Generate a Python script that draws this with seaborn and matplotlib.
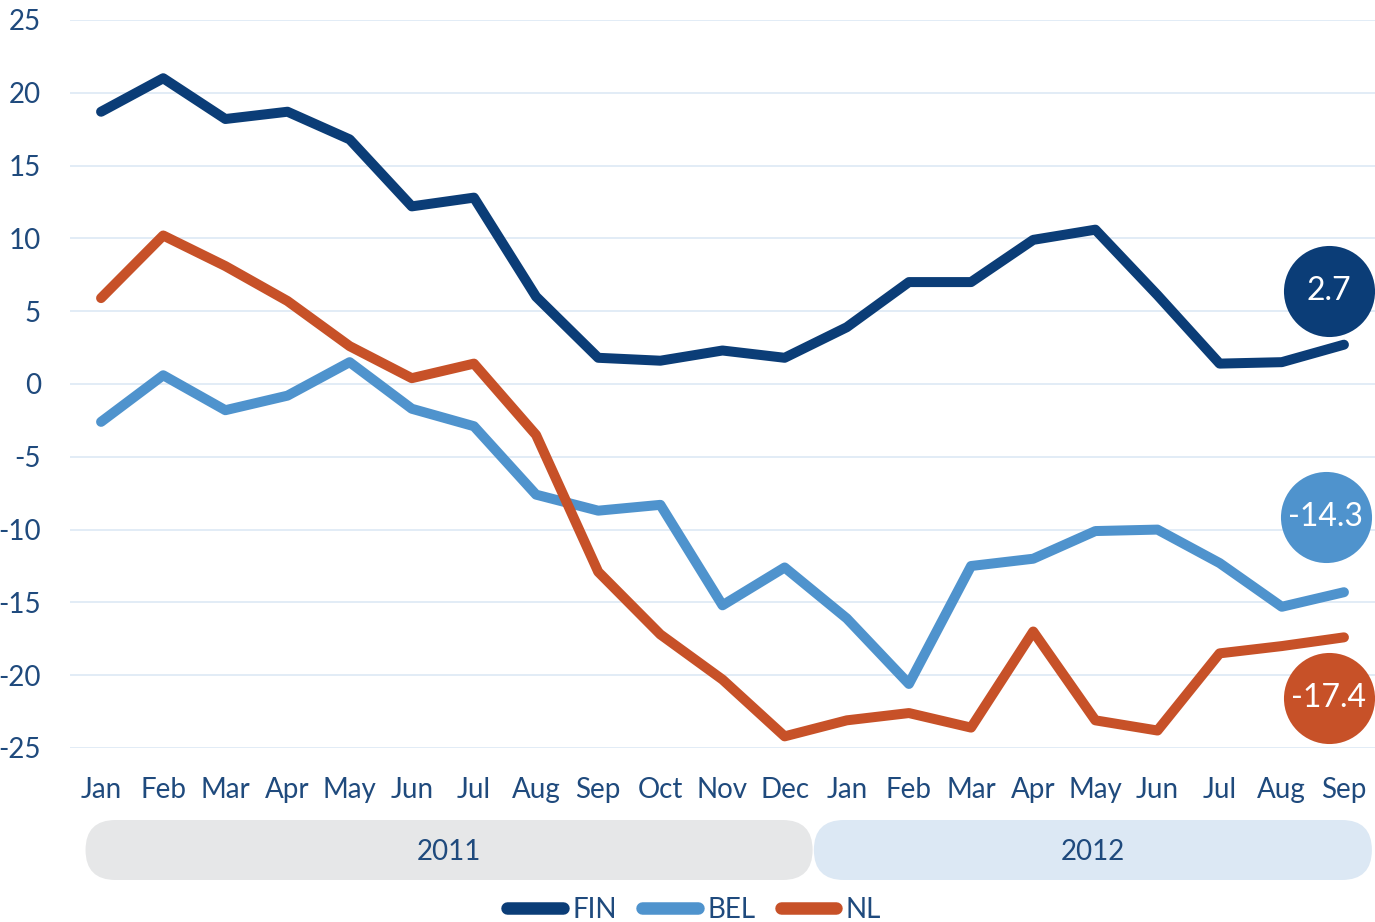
import numpy as np
import pandas as pd
import matplotlib
matplotlib.use("Agg")
import matplotlib.pyplot as plt
import matplotlib.transforms as mtrans
from matplotlib.patches import FancyBboxPatch
from matplotlib.lines import Line2D
import seaborn as sns

months = ["Jan", "Feb", "Mar", "Apr", "May", "Jun", "Jul", "Aug", "Sep", "Oct", "Nov", "Dec",
          "Jan", "Feb", "Mar", "Apr", "May", "Jun", "Jul", "Aug", "Sep"]
years = ["2011", "2012"]
year_len = [12, 9]

fin = [18.7, 21.0, 18.2, 18.7, 16.8, 12.2, 12.8, 6.0, 1.8, 1.6, 2.3, 1.8,
       3.9, 7.0, 7.0, 9.9, 10.6, 6.1, 1.4, 1.5, 2.7]
bel = [-2.6, 0.6, -1.8, -0.8, 1.5, -1.7, -2.9, -7.6, -8.7, -8.3, -15.2, -12.6,
       -16.1, -20.6, -12.5, -12.0, -10.1, -10.0, -12.3, -15.3, -14.3]
nl = [5.9, 10.2, 8.1, 5.7, 2.6, 0.4, 1.4, -3.5, -12.9, -17.2, -20.3, -24.2,
      -23.1, -22.6, -23.6, -17.0, -23.1, -23.8, -18.5, -18.0, -17.4]

series = ["FIN", "BEL", "NL"]
colors = {"FIN": "#0b3d77", "BEL": "#4f93cd", "NL": "#c75128"}
text_col = "#1f4a7d"

df = pd.DataFrame({
    "idx": list(range(len(months))) * 3,
    "value": fin + bel + nl,
    "country": ["FIN"] * len(fin) + ["BEL"] * len(bel) + ["NL"] * len(nl),
})

sns.set_theme(style="white")
plt.rcParams["font.family"] = ["Lato", "DejaVu Sans"]
plt.rcParams["axes.unicode_minus"] = False

fig = plt.figure(figsize=(13.75, 9.22), dpi=100)
ax = fig.add_axes([70 / 1375, 174 / 922, 1305 / 1375, 728 / 922])

sns.lineplot(data=df, x="idx", y="value", hue="country", palette=colors,
             hue_order=series, linewidth=7.2, ax=ax, legend=False,
             solid_capstyle="round", solid_joinstyle="round", clip_on=False, zorder=3)

ax.set_xlim(-0.5, 20.5)
ax.set_ylim(-25, 25)
ax.set_yticks(np.arange(-25, 26, 5))
ax.set_xticks(range(len(months)))
ax.set_xticklabels(months)
ax.set_xlabel("")
ax.set_ylabel("")
for s in ax.spines.values():
    s.set_visible(False)
ax.yaxis.grid(True, color="#dde9f5", linewidth=1.2)
ax.xaxis.grid(False)
ax.set_axisbelow(True)
ax.tick_params(axis="x", length=0, pad=21, labelsize=20, labelcolor=text_col)
ax.tick_params(axis="y", length=0, pad=21, labelsize=20, labelcolor=text_col)

# end-value bubbles
offsets = {"FIN": (-15, 54), "BEL": (-18, 75), "NL": (-15, -61)}
ends = {"FIN": fin[-1], "BEL": bel[-1], "NL": nl[-1]}
for c in series:
    dx, dy = offsets[c]
    tr = mtrans.offset_copy(ax.transData, fig=fig, x=dx, y=dy, units="dots")
    ax.scatter([len(months) - 1], [ends[c]], s=4300, color=colors[c], transform=tr,
               zorder=5, clip_on=False, linewidths=0)
    ax.text(len(months) - 1, ends[c], f"{ends[c]:.1f}", transform=tr, color="white",
            fontsize=23, ha="center", va="center", zorder=6)

# year bands
fig.canvas.draw()
band_cols = ["#e6e7e8", "#dce8f4"]
start = 0
for yr, n, bc in zip(years, year_len, band_cols):
    x0 = start - 0.25 if start == 0 else start - 0.53
    x1 = start + n - 1 + 0.45
    px0 = ax.transData.transform((x0, 0))[0]
    px1 = ax.transData.transform((x1, 0))[0]
    y0 = 42
    h = 60
    box = FancyBboxPatch((px0 / 100, y0 / 100), (px1 - px0) / 100, h / 100,
                         boxstyle="round,pad=0,rounding_size=0.3",
                         transform=fig.dpi_scale_trans, facecolor=bc, edgecolor="none")
    fig.patches.append(box)
    fig.text((px0 + px1) / 2 / 1375, (y0 + h / 2 - 2) / 922, yr, ha="center", va="center",
             fontsize=20, color=text_col)
    start += n

handles = [Line2D([0], [0], color=colors[c], linewidth=9, solid_capstyle="round") for c in series]
leg = fig.legend(handles, series, loc="center", bbox_to_anchor=(0.505, 0.013), ncol=3,
                 frameon=False, fontsize=20, handlelength=2.0, handletextpad=0.35,
                 columnspacing=0.9)
for t in leg.get_texts():
    t.set_color(text_col)

fig.savefig("out.png", dpi=100)
